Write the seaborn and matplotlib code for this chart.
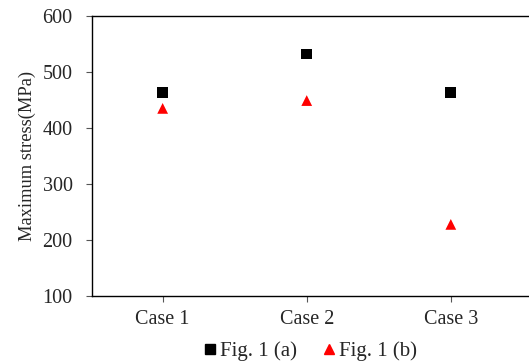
import pandas as pd
import seaborn as sns
import matplotlib.pyplot as plt
from matplotlib.lines import Line2D

cases = ['Case 1', 'Case 2', 'Case 3']
fig_a = [464, 532, 463]
fig_b = [435, 449, 228]
series = ['Fig. 1 (a)', 'Fig. 1 (b)']

df = pd.DataFrame({
    'case': cases * 2,
    'stress': fig_a + fig_b,
    'series': [series[0]] * 3 + [series[1]] * 3,
})
df['x'] = df['case'].map({c: i for i, c in enumerate(cases)})

sns.set_style('white')
plt.rcParams['font.family'] = ['Liberation Serif', 'DejaVu Serif']

fig = plt.figure(figsize=(5.29, 3.62), dpi=100)
ax = fig.add_axes([0.174, 0.182, 0.828, 0.774])

sns.scatterplot(data=df, x='x', y='stress', hue='series', style='series',
                palette={series[0]: 'black', series[1]: 'red'},
                markers={series[0]: 's', series[1]: '^'},
                s=60, edgecolor='none', legend=False, ax=ax)

ax.set_xlim(-0.49, 2.55)
ax.set_ylim(100, 600)
ax.set_yticks(range(100, 700, 100))
ax.set_xticks(range(len(cases)))
ax.set_xticklabels(cases)
ax.set_xlabel('')
ax.set_ylabel('Maximum stress(MPa)', fontsize=13.3, labelpad=5)
ax.tick_params(axis='both', labelsize=14.5, direction='out', length=4, width=0.8,
               color='#555555', left=True, bottom=True)
ax.tick_params(axis='y', pad=10)
ax.tick_params(axis='x', pad=6)
for side in ['left', 'top', 'bottom']:
    ax.spines[side].set_color('black')
    ax.spines[side].set_linewidth(1.0)
ax.spines['right'].set_visible(False)

handles = [Line2D([], [], marker='s', color='black', linestyle='none', markersize=7),
           Line2D([], [], marker='^', color='red', linestyle='none', markersize=7)]
fig.legend(handles, series, loc='center', bbox_to_anchor=(0.583, 0.03), ncol=2,
           frameon=False, fontsize=15, handletextpad=0.0, columnspacing=1.0,
           handlelength=1.0, borderaxespad=0)

fig.savefig('out.png', dpi=100)
